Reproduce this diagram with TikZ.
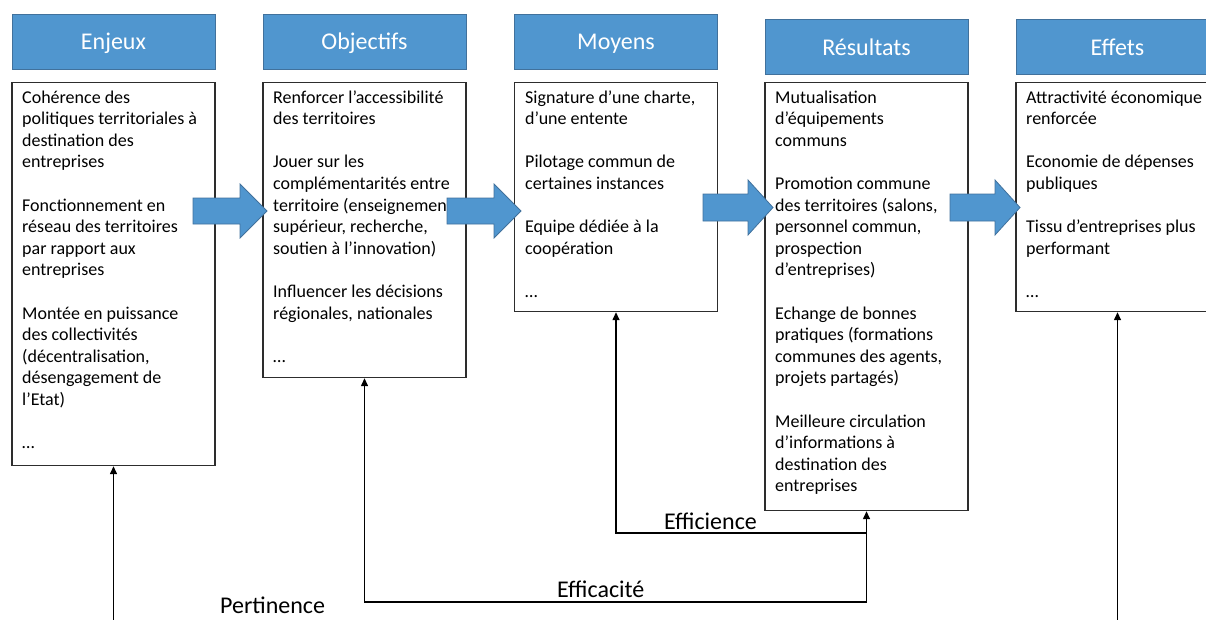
\documentclass[tikz,border=0pt]{standalone}
\usepackage{fontspec}
\setmainfont{Carlito}
\usetikzlibrary{arrows.meta}
\definecolor{hdrblue}{RGB}{80,150,207}
\definecolor{hdrline}{RGB}{65,113,156}
\definecolor{boxline}{RGB}{45,45,45}
\newcommand{\bodytext}[1]{\parbox[t]{300pt}{\fontsize{18}{21.6}\selectfont\raggedright #1}}
\begin{document}
\begin{tikzpicture}[x=1pt,y=-1pt,
  hdr/.style={draw=hdrline, line width=0.8pt, fill=hdrblue, text=white,
    minimum width=203pt, minimum height=55pt, inner sep=0pt,
    text height=16pt, text depth=0pt, font=\fontsize{24}{28}\selectfont},
  body/.style={draw=boxline, line width=1.2pt, minimum width=203pt, anchor=north, inner sep=0pt},
  txt/.style={anchor=base west, inner sep=0pt},
  bigarrow/.style={draw=hdrline, line width=0.8pt, fill=hdrblue},
  conn/.style={line width=1.4pt, black},
  ctip/.tip={Triangle[length=8pt,width=7pt]},
  lbl/.style={anchor=base west, inner sep=0pt, font=\fontsize{24}{28}\selectfont}
]
\useasboundingbox (0,0) rectangle (1206,619);

% body boxes
\node[body, minimum height=383pt] (b1) at (113.5,82) {};
\node[body, minimum height=295pt] (b2) at (364.5,82) {};
\node[body, minimum height=229pt] (b3) at (616,82) {};
\node[body, minimum height=428pt] (b4) at (866.5,82) {};
\node[body, minimum height=229pt] (b5) at (1117.5,82) {};

% body texts
\node[txt] (t1) at (22,103) {\bodytext{%
Cohérence des\\
politiques territoriales à\\
destination des\\
entreprises\\[21.6pt]
Fonctionnement en\\
réseau des territoires\\
par rapport aux\\
entreprises\\[21.6pt]
Montée en puissance\\
des collectivités\\
(décentralisation,\\
désengagement de\\
l’Etat)\\[21.6pt]
…}};

\node[txt] (t2) at (273,103) {\bodytext{%
Renforcer l’accessibilité\\
des territoires\\[21.6pt]
Jouer sur les\\
complémentarités entre\\
territoire (enseignement\\
supérieur, recherche,\\
soutien à l’innovation)\\[21.6pt]
Influencer les décisions\\
régionales, nationales\\[21.6pt]
…}};

\node[txt] (t3) at (525,103) {\bodytext{%
Signature d’une charte,\\
d’une entente\\[21.6pt]
Pilotage commun de\\
certaines instances\\[21.6pt]
Equipe dédiée à la\\
coopération\\[21.6pt]
…}};

\node[txt] (t4) at (775,103) {\bodytext{%
Mutualisation\\
d’équipements\\
communs\\[21.6pt]
Promotion commune\\
des territoires (salons,\\
personnel commun,\\
prospection\\
d’entreprises)\\[21.6pt]
Echange de bonnes\\
pratiques (formations\\
communes des agents,\\
projets partagés)\\[21.6pt]
Meilleure circulation\\
d’informations à\\
destination des\\
entreprises}};

\node[txt] (t5) at (1026,103) {\bodytext{%
Attractivité économique\\
renforcée\\[21.6pt]
Economie de dépenses\\
publiques\\[21.6pt]
Tissu d’entreprises plus\\
performant\\[21.6pt]
…}};

% headers
\node[hdr] (h1) at (113.5,41.5) {Enjeux};
\node[hdr] (h2) at (364.5,41.5) {Objectifs};
\node[hdr] (h3) at (616,41.5) {Moyens};
\node[hdr] (h4) at (866.5,47) {Résultats};
\node[hdr] (h5) at (1117.5,47) {Effets};

% block arrows
\draw[bigarrow] (193,198) -- (240,198) -- (240,184) -- (267,211) -- (240,238) -- (240,224) -- (193,224) -- cycle;
\draw[bigarrow] (447,198) -- (494,198) -- (494,184) -- (521,211) -- (494,238) -- (494,224) -- (447,224) -- cycle;
\draw[bigarrow] (703,194) -- (748,194) -- (748,180) -- (773,207.5) -- (748,235) -- (748,221) -- (703,221) -- cycle;
\draw[bigarrow] (950,194) -- (995,194) -- (995,180) -- (1020,207.5) -- (995,235) -- (995,221) -- (950,221) -- cycle;

% connectors
\coordinate (pb) at (1117.5,660);
\coordinate (ce) at (866.5,533);
\coordinate (ca) at (866.5,602);
\draw[conn,ctip-ctip] (b5.south) -- (pb) -| (b1.south);
\draw[conn,ctip-ctip] (b3.south) |- (ce) -- (b4.south);
\draw[conn,-ctip] (ce) -- (ca) -| (b2.south);

% labels
\node[lbl] (l1) at (664,529) {Efficience};
\node[lbl] (l2) at (557,597) {Efficacité};
\node[lbl] (l3) at (220,613) {Pertinence};
\end{tikzpicture}
\end{document}
